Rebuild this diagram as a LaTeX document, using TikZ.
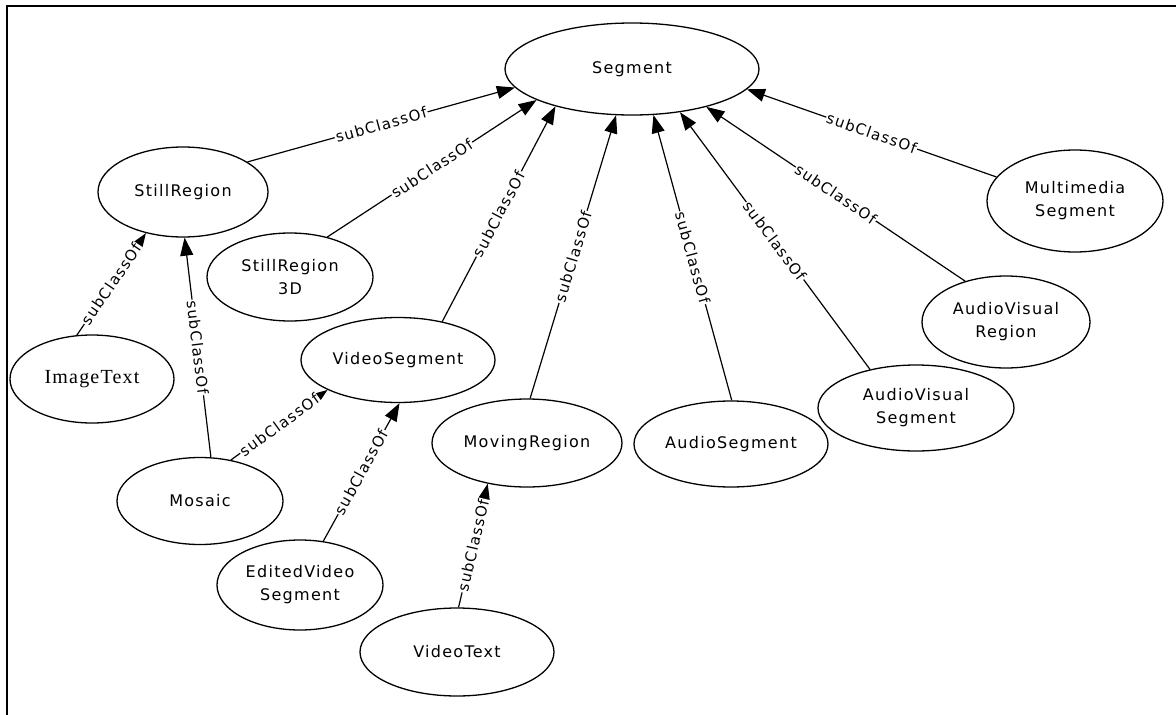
\documentclass[tikz,border=0pt]{standalone}
\usepackage{fontspec}
\newfontfamily\nodefont{DejaVu Sans}[LetterSpace=8]
\newfontfamily\serifnode{Liberation Serif}[LetterSpace=6]
\usetikzlibrary{shapes.geometric,arrows.meta}
\begin{document}
\begin{tikzpicture}[x=1pt,y=-1pt,
  cls/.style={ellipse, draw, line width=1.3pt, inner sep=0pt, align=center,
    font=\nodefont\fontsize{16}{23}\selectfont},
  sub/.style={-{Triangle[length=18pt,width=13pt]}, line width=1.2pt},
  lab/.style={sloped, midway, fill=white, inner sep=1pt,
    font=\nodefont\fontsize{15}{18}\selectfont}
]
\useasboundingbox (0,0) rectangle (1176,715);
\fill[white] (0,0) rectangle (1176,715);
\draw[line width=2pt] (7,715) -- (7,6) -- (1176,6);

\node[cls, minimum width=254pt, minimum height=92pt] (seg) at (632,69) {Segment};
\node[cls, minimum width=170pt, minimum height=90pt] (sr) at (183,192) {StillRegion};
\node[cls, minimum width=166pt, minimum height=88pt] (sr3) at (290,277) {StillRegion\\3D};
\node[cls, minimum width=164pt, minimum height=88pt, font=\serifnode\fontsize{20}{23}\selectfont] (it) at (92,379) {ImageText};
\node[cls, minimum width=194pt, minimum height=85pt] (vs) at (398,360) {VideoSegment};
\node[cls, minimum width=166pt, minimum height=87pt] (mo) at (200,501) {Mosaic};
\node[cls, minimum width=166pt, minimum height=90pt] (ev) at (300,585) {EditedVideo\\Segment};
\node[cls, minimum width=190pt, minimum height=88pt] (mr) at (527,443) {MovingRegion};
\node[cls, minimum width=194pt, minimum height=88pt] (vt) at (457,652) {VideoText};
\node[cls, minimum width=194pt, minimum height=86pt] (as) at (731,444) {AudioSegment};
\node[cls, minimum width=196pt, minimum height=86pt] (avs) at (916,408) {AudioVisual\\Segment};
\node[cls, minimum width=168pt, minimum height=92pt] (avr) at (1006,322) {AudioVisual\\Region};
\node[cls, minimum width=176pt, minimum height=102pt] (mm) at (1075,201) {Multimedia\\Segment};

\draw[sub] (sr.25.8) -- node[lab]{subClassOf} (seg.189);
\draw[sub] (sr3.47.2) -- node[lab]{subClassOf} (seg.198.1);
\draw[sub] (vs.41.6) -- node[lab]{subClassOf} (seg.206.9);
\draw[sub] (mr.86) -- node[lab]{subClassOf} (seg.251.6);
\draw[sub] (as.89) -- node[lab]{subClassOf} (seg.295.6);
\draw[sub] (avs.140.2) -- node[lab]{subClassOf} (seg.318.7);
\draw[sub] (avr.135.7) -- node[lab]{subClassOf} (seg.333.2);
\draw[sub] (mm.163.3) -- node[lab]{subClassOf} (seg.350.1);
\draw[sub] (it.109.7) -- node[lab]{subClassOf} (sr.228.5);
\draw[sub] (mo.76.9) -- node[lab]{subClassOf} (sr.272.5);
\draw[sub] (mo.53.8) -- node[lab]{subClassOf} (vs.203.8);
\draw[sub] (ev.62.9) -- node[lab]{subClassOf} (vs.272.5);
\draw[sub] (vt.88.7) -- node[lab]{subClassOf} (mr.226.3);
\end{tikzpicture}
\end{document}
